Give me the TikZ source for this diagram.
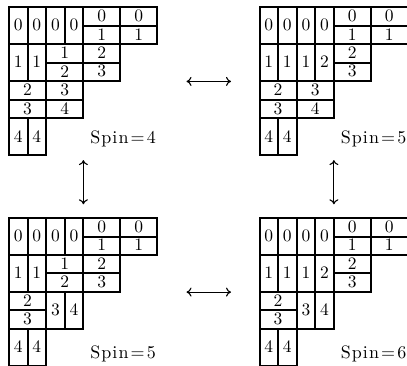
\documentclass[tikz,border=0pt]{standalone}
\usetikzlibrary{arrows.meta}
\tikzset{
  grid line/.style={line width=2pt, line cap=rect},
  dig/.style={inner sep=0pt, scale=1.75},
  spinlabel/.style={inner sep=0pt, scale=1.8, anchor=base},
  frame/.style={inner sep=0pt, minimum width=148.4pt, minimum height=148.4pt, anchor=north west},
  flip/.style={line width=1.1pt,
    {Computer Modern Rightarrow[length=5pt,width=9pt]}-{Computer Modern Rightarrow[length=5pt,width=9pt]}},
  tableaugrid/.style={x=18.55pt, y=-18.55pt},
}
% lines shared by every tableau (unit grid, y downward)
\newcommand{\commonlines}{%
  \draw[grid line] (0,0)--(8,0) (4,1.05)--(8,1.05) (0,2)--(8,2) (0,4)--(6,4)
    (0,6)--(4,6) (0,8)--(2,8)
    (0,0)--(0,8) (1,0)--(1,2) (2,0)--(2,8) (3,0)--(3,2) (4,0)--(4,6)
    (6,0)--(6,4) (8,0)--(8,2) (1,6)--(1,8) (1,2)--(1,4);}
\newcommand{\rowtwoA}{\draw[grid line] (2,3)--(6,3);}
\newcommand{\rowtwoB}{\draw[grid line] (4,3)--(6,3) (3,2)--(3,4);}
\newcommand{\rowsmidA}{\draw[grid line] (0,5)--(4,5);}
\newcommand{\rowsmidB}{\draw[grid line] (0,5)--(2,5) (3,4)--(3,6);}
% cell entries
\def\firstrow{0.5/0.96/0, 1.5/0.96/0, 2.5/0.96/0, 3.5/0.96/0, 5/0.48/0, 7/0.48/0, 5/1.48/1, 7/1.48/1}
\def\secondA{0.5/2.96/1, 1.5/2.96/1, 3/2.46/1, 3/3.46/2, 5/2.46/2, 5/3.46/3}
\def\secondB{0.5/2.96/1, 1.5/2.96/1, 2.5/2.96/1, 3.5/2.96/2, 5/2.46/2, 5/3.46/3}
\def\midA{1/4.47/2, 3/4.47/3, 1/5.47/3, 3/5.47/4}
\def\midB{1/4.47/2, 1/5.47/3, 2.5/4.97/3, 3.5/4.97/4}
\def\lastrow{0.5/6.96/4, 1.5/6.96/4}
\newcommand{\fillcells}[2]{%
  \foreach \x/\y/\t [count=\i] in #2 {\node[dig] (#1-\i) at (\x,\y) {\t};}}
% spin label, set with a little tracking
\newcommand{\spinof}[1]{S\kern0.6pt p\kern0.6pt i\kern0.6pt n\kern1.2pt=\kern1.2pt #1}
\begin{document}
\begin{tikzpicture}
  \useasboundingbox (0pt,0pt) rectangle (407pt,-365pt);

  % frames of the four tableaux
  \node[frame] (tl) at (9pt,-7pt) {};
  \node[frame] (tr) at (259.5pt,-7pt) {};
  \node[frame] (bl) at (9pt,-217.7pt) {};
  \node[frame] (br) at (259.5pt,-217.7pt) {};

  % top left, Spin=4
  \begin{scope}[shift={(9pt,-7pt)}, tableaugrid, name prefix=tl-]
    \commonlines \rowtwoA \rowsmidA
    \fillcells{a}{\firstrow} \fillcells{b}{\secondA}
    \fillcells{c}{\midA} \fillcells{d}{\lastrow}
    \node[spinlabel] (spin) at (6.15,7.35) {\spinof{4}};
  \end{scope}

  % top right, Spin=5
  \begin{scope}[shift={(259.5pt,-7pt)}, tableaugrid, name prefix=tr-]
    \commonlines \rowtwoB \rowsmidA
    \fillcells{a}{\firstrow} \fillcells{b}{\secondB}
    \fillcells{c}{\midA} \fillcells{d}{\lastrow}
    \node[spinlabel] (spin) at (6.15,7.35) {\spinof{5}};
  \end{scope}

  % bottom left, Spin=5
  \begin{scope}[shift={(9pt,-217.7pt)}, tableaugrid, name prefix=bl-]
    \commonlines \rowtwoA \rowsmidB
    \fillcells{a}{\firstrow} \fillcells{b}{\secondA}
    \fillcells{c}{\midB} \fillcells{d}{\lastrow}
    \node[spinlabel] (spin) at (6.15,7.58) {\spinof{5}};
  \end{scope}

  % bottom right, Spin=6
  \begin{scope}[shift={(259.5pt,-217.7pt)}, tableaugrid, name prefix=br-]
    \commonlines \rowtwoB \rowsmidB
    \fillcells{a}{\firstrow} \fillcells{b}{\secondB}
    \fillcells{c}{\midB} \fillcells{d}{\lastrow}
    \node[spinlabel] (spin) at (6.15,7.58) {\spinof{6}};
  \end{scope}

  % moves between the tableaux
  \draw[flip, shorten <=28.7pt, shorten >=28.5pt] (tl.east) -- (tr.west);
  \draw[flip, shorten <=28.7pt, shorten >=28.5pt] (bl.east) -- (br.west);
  \draw[flip, shorten <=4.3pt, shorten >=13.4pt] (tl.south) -- (bl.north);
  \draw[flip, shorten <=4.3pt, shorten >=13.4pt] (tr.south) -- (br.north);
\end{tikzpicture}
\end{document}
